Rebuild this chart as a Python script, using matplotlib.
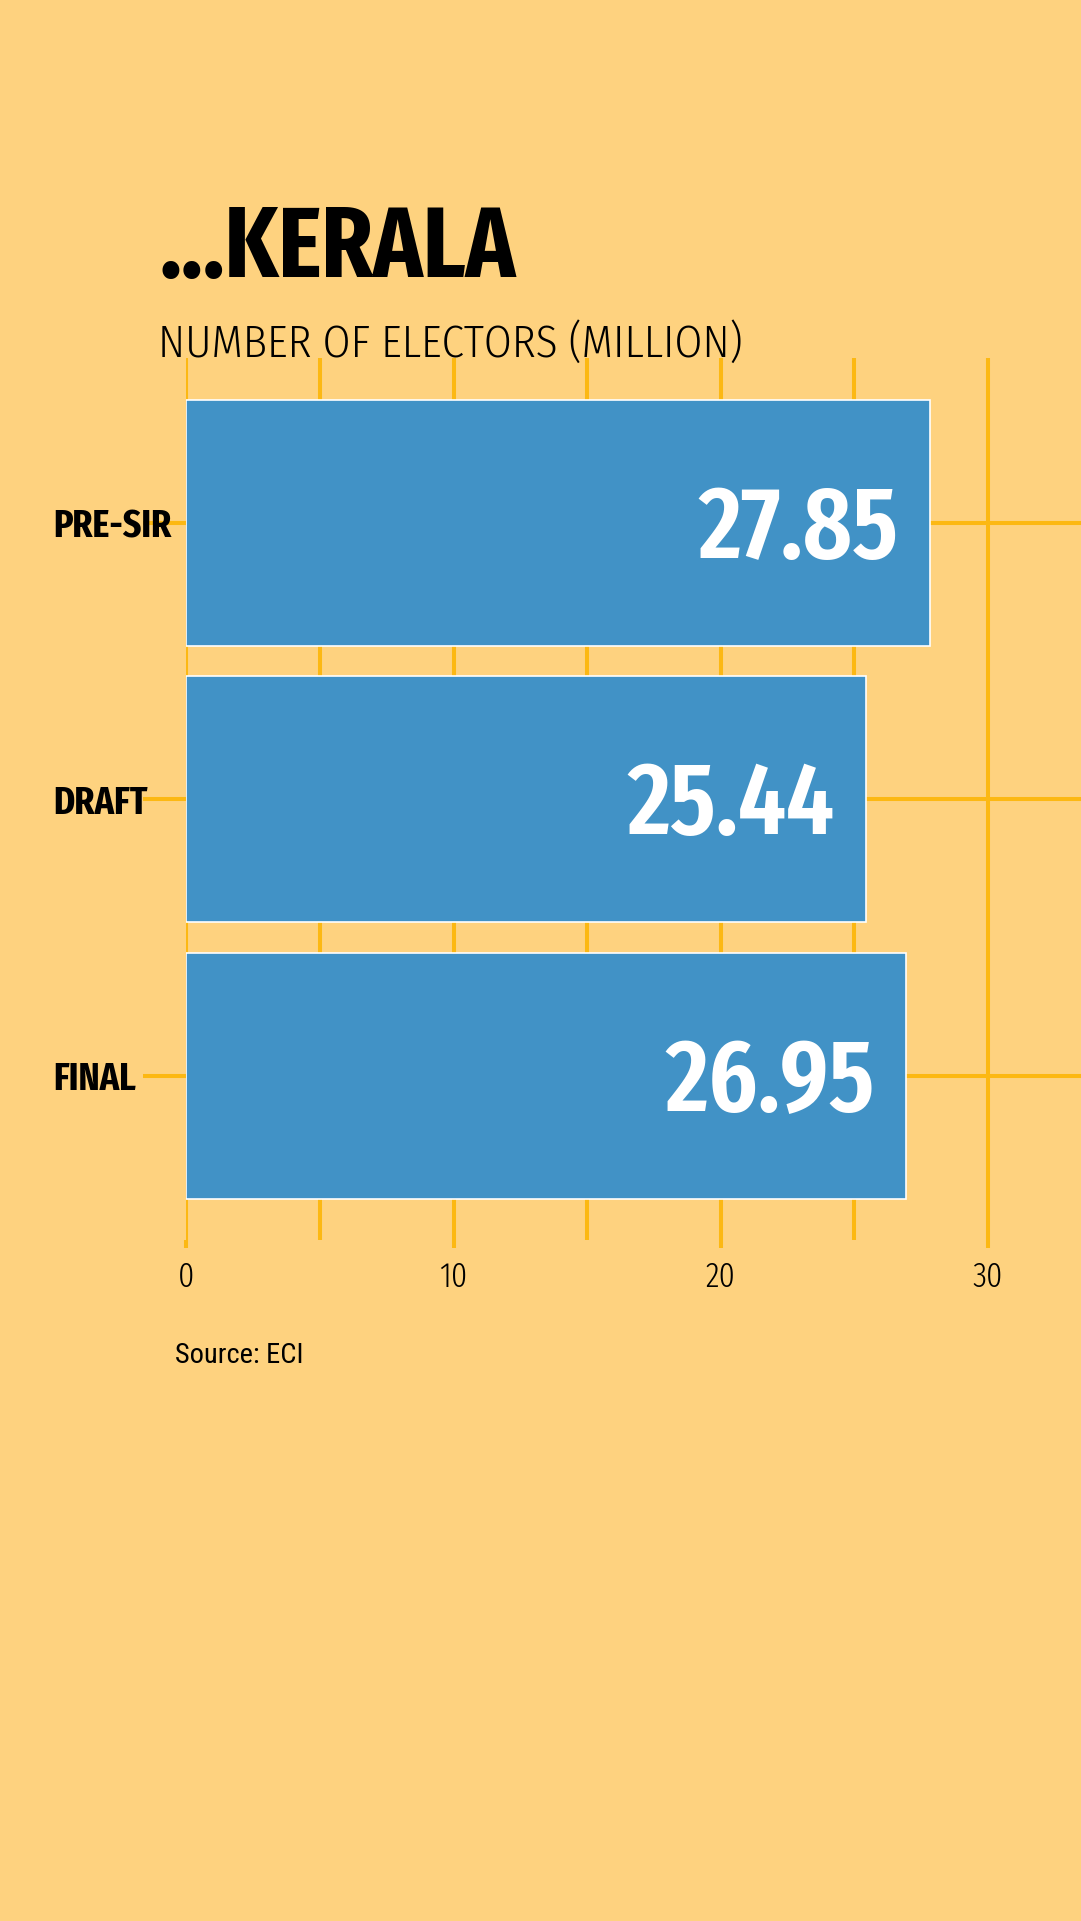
import matplotlib
matplotlib.use("Agg")
import matplotlib.pyplot as plt
from matplotlib.transforms import offset_copy

# chart data
categories = ["PRE-SIR", "DRAFT", "FINAL"]
electors = [27.85, 25.44, 26.95]
xMajorTicks = [0, 10, 20, 30]
xMinorTicks = [5, 15, 25]
titleText = "...KERALA"
subtitleText = "NUMBER OF ELECTORS (MILLION)"
sourceText = "Source: ECI"

# styles
BG_COLOR = "#FED27F"
GRID_COLOR = "#FCB813"
BAR_COLOR = "#4192C6"
FONT = "Fira Sans Extra Condensed"
W, H = 1081, 1921

fig = plt.figure(figsize=(W / 100, H / 100), dpi=100, facecolor=BG_COLOR)
axLeft, axTop, axBottom = 186.3, 357.9, 1240.3
ax = fig.add_axes([axLeft / W, 1 - axBottom / H, (W - axLeft) / W, (axBottom - axTop) / H])
ax.set_facecolor(BG_COLOR)
ax.set_axisbelow(True)

yPos = list(range(len(categories)))
ax.barh(yPos, electors, height=0.89, color=BAR_COLOR, edgecolor="white", linewidth=1.2, zorder=3)

ax.set_xlim(0, (W - axLeft) / 26.72)
ax.set_ylim(2.596, -0.596)
ax.set_xticks(xMajorTicks)
ax.set_xticks(xMinorTicks, minor=True)
ax.set_yticks(yPos, categories)

ax.grid(axis="x", which="both", color=GRID_COLOR, linewidth=2.9)
ax.grid(axis="y", which="major", color=GRID_COLOR, linewidth=2.9)
for s in ax.spines.values():
    s.set_visible(False)

ax.tick_params(axis="x", which="major", length=5.8, width=2.9, color=GRID_COLOR, pad=8.3, labelsize=25)
ax.tick_params(axis="x", which="minor", length=0)
ax.tick_params(axis="y", length=31, width=2.9, color=GRID_COLOR, pad=65, labelsize=28)
for lbl in ax.get_xticklabels():
    lbl.set_family(FONT)
    lbl.set_weight(300)
for lbl in ax.get_yticklabels():
    lbl.set_family(FONT)
    lbl.set_weight(700)
    lbl.set_horizontalalignment("left")

# value labels inside bars
valueTrans = offset_copy(ax.transData, fig=fig, x=-32, y=-35, units="dots")
for i, v in enumerate(electors):
    ax.text(v, i, f"{v:.2f}", ha="right", va="baseline", color="white", family=FONT,
            weight=600, fontsize=74, transform=valueTrans, zorder=4)

fig.text(159 / W, 1 - 277 / H, titleText, family=FONT, weight=700, fontsize=71.5, va="baseline")
fig.text(158.5 / W, 1 - 357 / H, subtitleText, family="Fira Sans Condensed", weight=300,
         fontsize=32.3, va="baseline")
fig.text(175 / W, 1 - 1363 / H, sourceText, family="Roboto Condensed", weight=400, fontsize=20.5, va="baseline")

fig.savefig("out.png", facecolor=BG_COLOR)
